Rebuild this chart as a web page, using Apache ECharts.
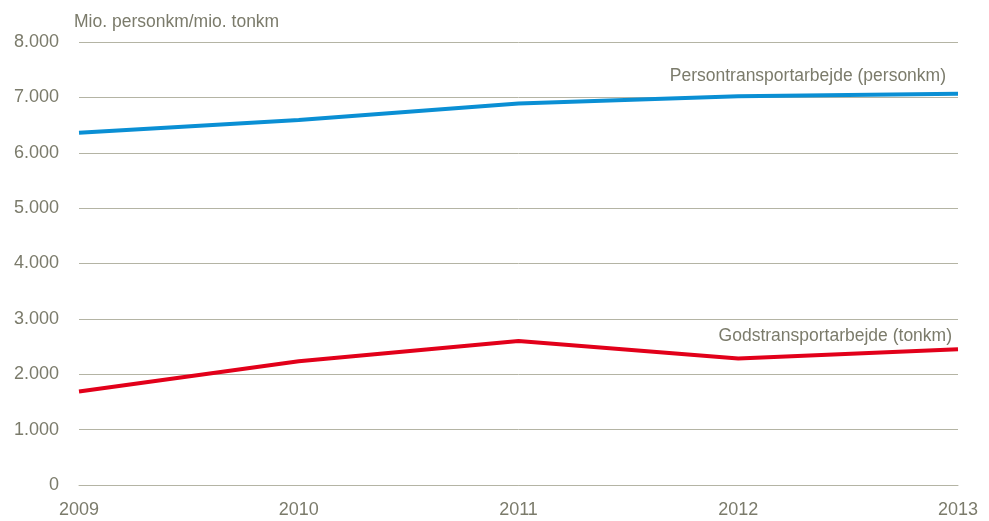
<!DOCTYPE html>
<html>
<head>
<meta charset="utf-8">
<script src="https://cdn.jsdelivr.net/npm/echarts@6/dist/echarts.min.js"></script>
<style>
  html, body { margin: 0; padding: 0; background: #fff; }
  #chart { width: 989px; height: 521px; }
</style>
</head>
<body>
<div id="chart"></div>
<script>
var years = ['2009', '2010', '2011', '2012', '2013'];
var personkm = [6360, 6590, 6890, 7020, 7065];
var tonkm = [1690, 2235, 2600, 2285, 2450];
var yTicks = { min: 0, max: 8000, interval: 1000 };

var fontNarrow = "'Liberation Sans Narrow', 'Arial Narrow', 'Liberation Sans', sans-serif";
var textGrey = '#7b7b6b';

function fmt(v) {
    return String(v).replace(/\B(?=(\d{3})+(?!\d))/g, '.');
}

var myChart = echarts.init(document.getElementById('chart'));
var option = {
    animation: false,
    grid: { left: 79, right: 31, top: 42, bottom: 36 },
    xAxis: {
        type: 'category',
        boundaryGap: false,
        data: years,
        axisLine: { lineStyle: { color: '#b4b4a4', width: 1 } },
        axisTick: { show: false },
        axisLabel: { color: textGrey, fontFamily: fontNarrow, fontSize: 18, margin: 16 }
    },
    yAxis: {
        type: 'value',
        min: yTicks.min,
        max: yTicks.max,
        interval: yTicks.interval,
        name: 'Mio. personkm/mio. tonkm',
        nameLocation: 'end',
        nameGap: 11,
        nameTextStyle: { color: textGrey, fontFamily: fontNarrow, fontSize: 17.5, align: 'left', padding: [0, 0, 0, -5] },
        axisLine: { show: false },
        axisTick: { show: false },
        splitLine: { lineStyle: { color: '#b4b4a4', width: 1 } },
        axisLabel: { color: textGrey, fontFamily: fontNarrow, fontSize: 18, margin: 20, formatter: fmt }
    },
    series: [
        {
            name: 'Persontransportarbejde (personkm)',
            type: 'line',
            data: personkm,
            symbol: 'none',
            lineStyle: { color: '#0a8fd4', width: 4 },
            endLabel: {
                show: true,
                formatter: '{a}',
                color: textGrey,
                fontFamily: fontNarrow,
                fontSize: 17.5,
                align: 'right',
                verticalAlign: 'middle',
                distance: 0,
                offset: [-12, -18]
            }
        },
        {
            name: 'Godstransportarbejde (tonkm)',
            type: 'line',
            data: tonkm,
            symbol: 'none',
            lineStyle: { color: '#e2001a', width: 4 },
            endLabel: {
                show: true,
                formatter: '{a}',
                color: textGrey,
                fontFamily: fontNarrow,
                fontSize: 17.5,
                align: 'right',
                verticalAlign: 'middle',
                distance: 0,
                offset: [-6, -13]
            }
        }
    ]
};
myChart.setOption(option);
</script>
</body>
</html>
